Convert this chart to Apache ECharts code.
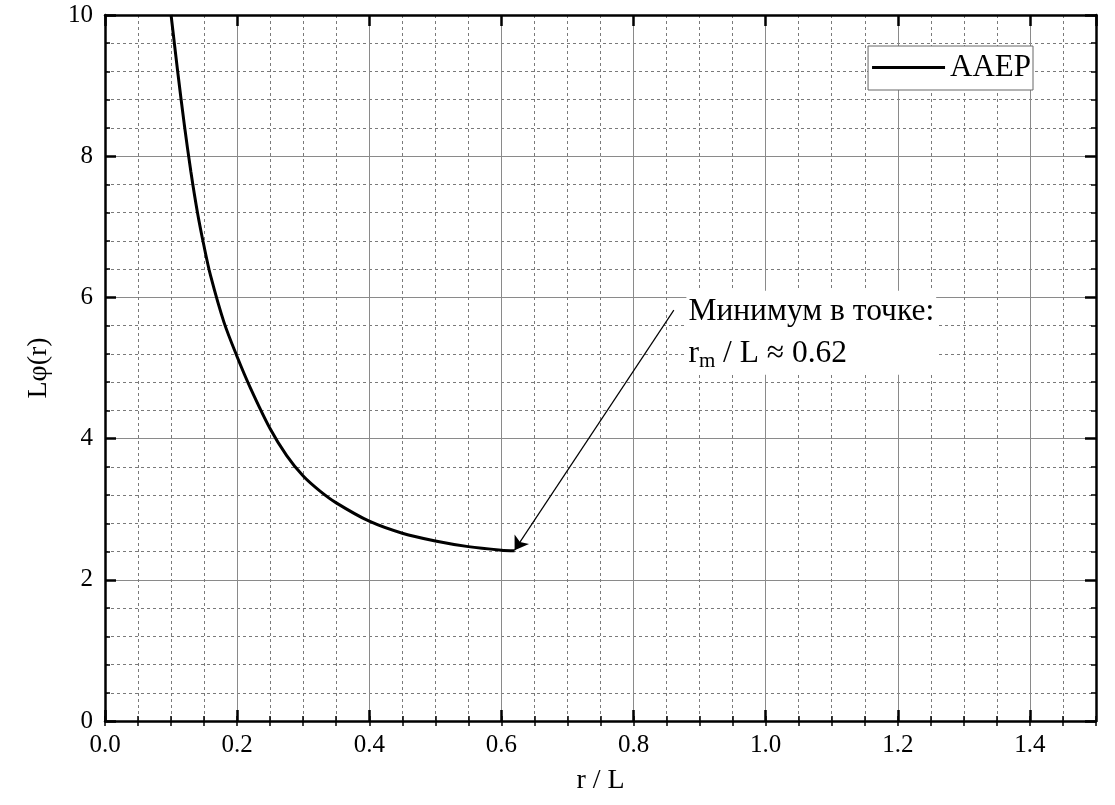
<!DOCTYPE html>
<html>
<head>
<meta charset="utf-8">
<script src="https://cdn.jsdelivr.net/npm/echarts@6/dist/echarts.min.js"></script>
<style>
  html, body { margin: 0; padding: 0; background: #fff; }
  #chart { width: 1115px; height: 805px; }
</style>
</head>
<body>
<div id="chart"></div>
<script>
// ---- data ----
const rValues   = [0.10, 0.11, 0.12, 0.13, 0.14, 0.15, 0.16, 0.18, 0.20, 0.22, 0.25, 0.275, 0.30, 0.325, 0.35, 0.40, 0.45, 0.50, 0.55, 0.60, 0.62];
const phiValues = [10.00, 9.20, 8.45, 7.78, 7.20, 6.72, 6.30, 5.65, 5.16, 4.72, 4.14, 3.76, 3.47, 3.26, 3.09, 2.83, 2.66, 2.55, 2.47, 2.42, 2.41];
const seriesName = 'AAEP';
const xName = 'r / L';
const yName = 'Lφ(r)';
const annotationLine1 = 'Минимум в точке:';
const annotationSub = 'm';
const annotationLine2Tail = ' / L ≈ 0.62';
const arrowFrom = [0.861, 5.82];
const arrowTo = [0.620, 2.42];
const annotationAnchor = [0.880, 5.50];

const FONT = '"Liberation Serif", "DejaVu Serif", serif';
const data = rValues.map((r, i) => [r, phiValues[i]]);

const chart = echarts.init(document.getElementById('chart'), null, { renderer: 'canvas' });

const majorGrid = { show: true, lineStyle: { color: '#8a8a8a', width: 1, type: 'solid' } };
const minorGrid = { show: true, lineStyle: { color: '#7a7a7a', width: 1, type: [3, 3] } };

const option = {
  animation: false,
  backgroundColor: '#fff',
  grid: { left: 105, right: 19, top: 15, bottom: 84 },
  legend: {
    data: [{ name: seriesName, icon: 'rect' }],
    right: 82,
    top: 46,
    backgroundColor: '#fff',
    borderColor: '#666',
    borderWidth: 1,
    borderRadius: 0,
    padding: [6, 2, 7, 4],
    itemWidth: 73,
    itemHeight: 3,
    itemStyle: { color: '#000' },
    textStyle: { fontFamily: FONT, fontSize: 31, color: '#000' }
  },
  xAxis: [
    { // minor grid + minor ticks bottom
      type: 'value', min: 0, max: 1.5, interval: 0.05, position: 'bottom',
      axisLine: { show: false },
      axisTick: { show: true, inside: true, length: 5, lineStyle: { color: '#000', width: 1.5 } },
      axisLabel: { show: false },
      splitLine: minorGrid
    },
    { // minor ticks top
      type: 'value', min: 0, max: 1.5, interval: 0.05, position: 'top',
      axisLine: { show: false },
      axisTick: { show: true, inside: true, length: 5, lineStyle: { color: '#000', width: 1.5 } },
      axisLabel: { show: false },
      splitLine: { show: false }
    },
    { // main bottom axis
      type: 'value', min: 0, max: 1.5, interval: 0.2, position: 'bottom',
      axisLine: { show: true, onZero: false, lineStyle: { color: '#000', width: 2.5 } },
      axisTick: { show: true, inside: true, length: 11, lineStyle: { color: '#000', width: 2.5 } },
      axisLabel: { show: true, margin: 12, fontFamily: FONT, fontSize: 25, color: '#000',
                   showMaxLabel: false, formatter: v => v.toFixed(1) },
      splitLine: majorGrid,
      name: xName, nameLocation: 'middle', nameGap: 46,
      nameTextStyle: { fontFamily: FONT, fontSize: 28, color: '#000' }
    },
    { // main top axis
      type: 'value', min: 0, max: 1.5, interval: 0.2, position: 'top',
      axisLine: { show: true, onZero: false, lineStyle: { color: '#000', width: 2.5 } },
      axisTick: { show: true, inside: true, length: 11, lineStyle: { color: '#000', width: 2.5 } },
      axisLabel: { show: false },
      splitLine: { show: false }
    }
  ],
  yAxis: [
    {
      type: 'value', min: 0, max: 10, interval: 2, position: 'left',
      axisLine: { show: true, onZero: false, lineStyle: { color: '#000', width: 2.5 } },
      axisTick: { show: true, inside: true, length: 11, lineStyle: { color: '#000', width: 2.5 } },
      minorTick: { show: true, splitNumber: 5, length: 5, lineStyle: { color: '#000', width: 1.5 } },
      axisLabel: { show: true, margin: 12, fontFamily: FONT, fontSize: 25, color: '#000' },
      splitLine: majorGrid,
      minorSplitLine: minorGrid,
      name: yName, nameLocation: 'middle', nameGap: 52, nameRotate: 90,
      nameTextStyle: { fontFamily: FONT, fontSize: 28, color: '#000' }
    },
    {
      type: 'value', min: 0, max: 10, interval: 2, position: 'right',
      axisLine: { show: true, onZero: false, lineStyle: { color: '#000', width: 2.5 } },
      axisTick: { show: true, inside: true, length: 11, lineStyle: { color: '#000', width: 2.5 } },
      minorTick: { show: true, splitNumber: 5, length: 5, lineStyle: { color: '#000', width: 1.5 } },
      axisLabel: { show: false },
      splitLine: { show: false }
    }
  ],
  series: [
    {
      name: seriesName,
      type: 'line',
      xAxisIndex: 2,
      yAxisIndex: 0,
      data: data,
      smooth: 0.3,
      symbol: 'none',
      showSymbol: false,
      lineStyle: { color: '#000', width: 3 },
      itemStyle: { color: '#000' },
      z: 5,
      markLine: {
        silent: true,
        animation: false,
        symbol: ['none', 'arrow'],
        symbolSize: 13,
        label: { show: false },
        lineStyle: { color: '#000', width: 1.2, type: 'solid' },
        data: [[ { coord: arrowFrom }, { coord: arrowTo } ]]
      },
      markPoint: {
        silent: true,
        animation: false,
        symbol: 'circle',
        symbolSize: 0,
        itemStyle: { color: 'rgba(0,0,0,0)' },
        label: {
          show: true,
          position: [0, 0],
          align: 'left',
          verticalAlign: 'middle',
          backgroundColor: '#fff',
          padding: [0, 2, 0, 2],
          fontFamily: FONT,
          fontSize: 31.5,
          color: '#000',
          lineHeight: 42,
          formatter: annotationLine1 + '\n' + 'r{sub|' + annotationSub + '}' + annotationLine2Tail,
          rich: {
            sub: { fontFamily: FONT, fontSize: 21, color: '#000', padding: [16, 0, 0, 0], lineHeight: 42 }
          }
        },
        data: [ { coord: annotationAnchor } ]
      }
    }
  ]
};

chart.setOption(option);
</script>
</body>
</html>
